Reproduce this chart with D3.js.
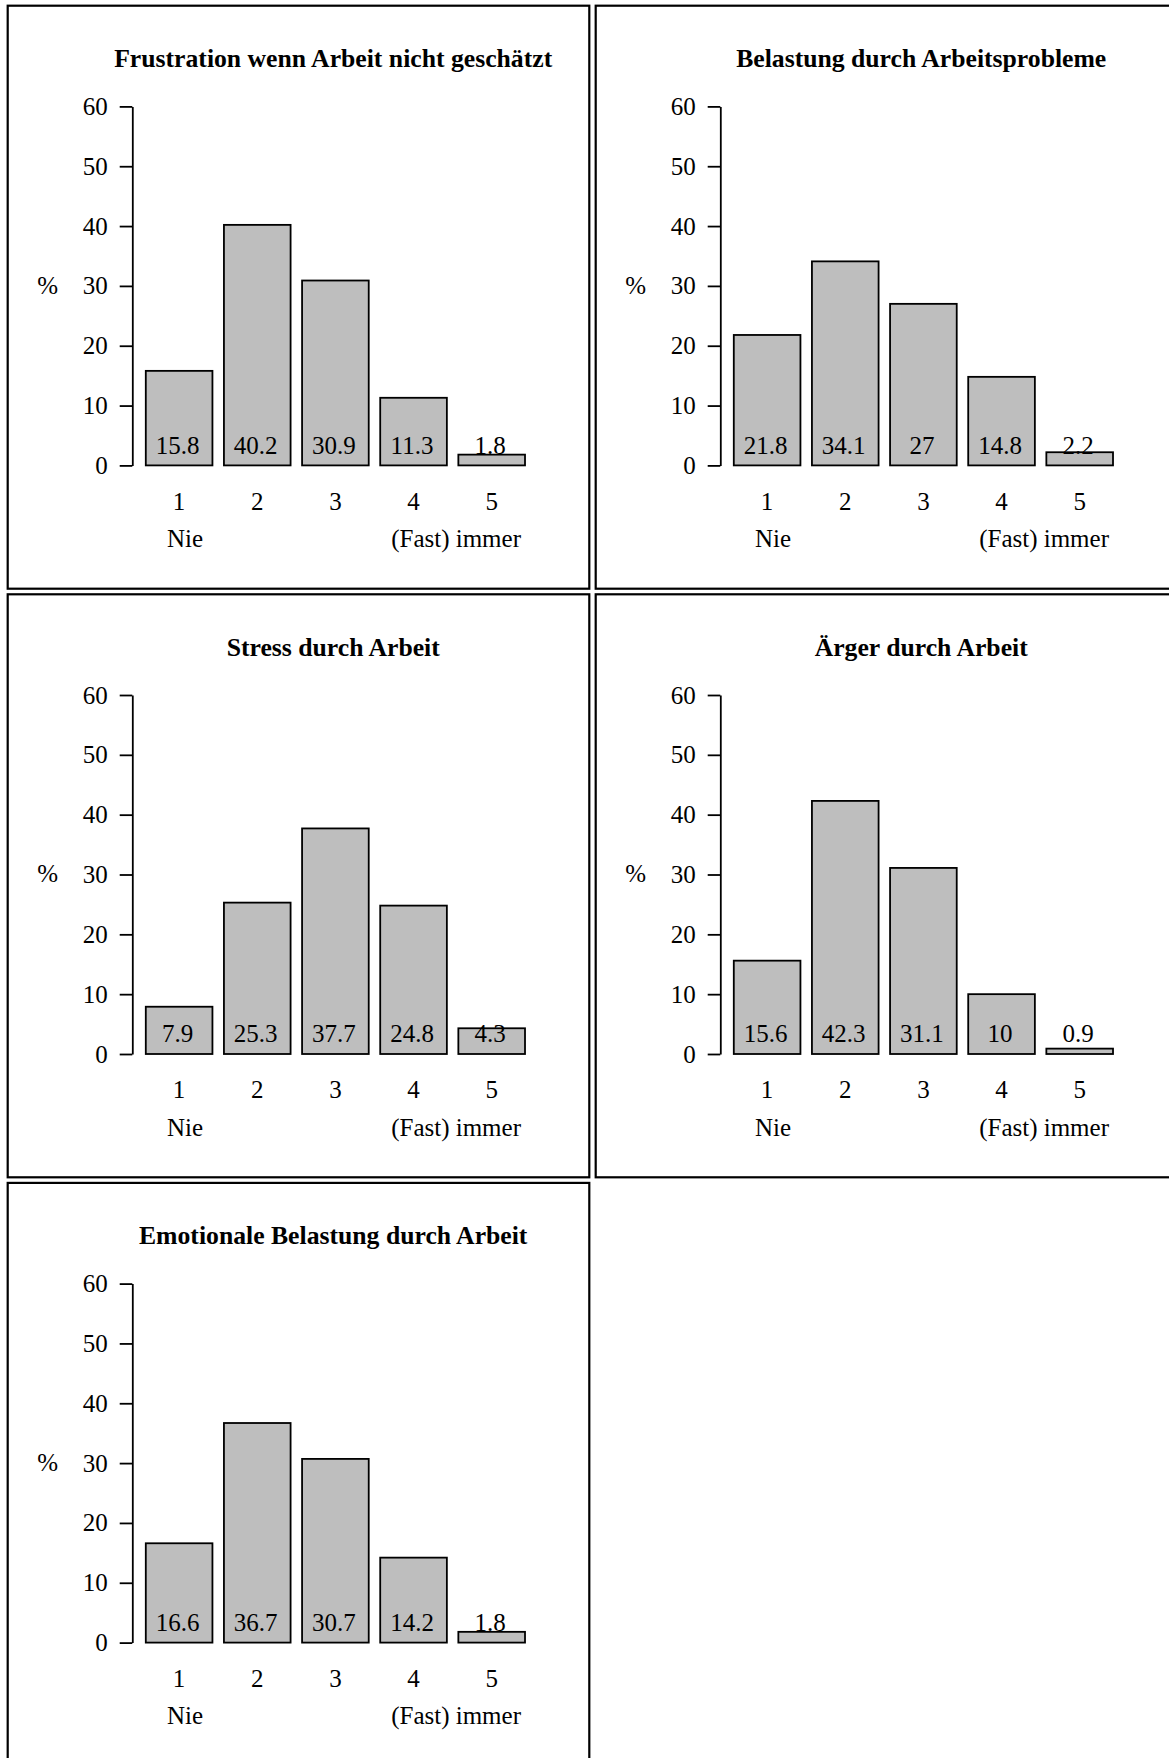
<!DOCTYPE html>
<html>
<head>
<meta charset="utf-8">
<script src="https://cdn.jsdelivr.net/npm/d3@7"></script>
<style>
  html, body { margin: 0; padding: 0; background: #fff; overflow: hidden; }
  svg { display: block; }
  text { font-family: "Liberation Serif", "Times New Roman", serif; fill: #000; }
</style>
</head>
<body>
<svg id="chart" width="1169" height="1758"></svg>
<script>
// ---- data ----
const titles = [
  "Frustration wenn Arbeit nicht geschätzt",
  "Belastung durch Arbeitsprobleme",
  "Stress durch Arbeit",
  "Ärger durch Arbeit",
  "Emotionale Belastung durch Arbeit"
];
const categories = ["1", "2", "3", "4", "5"];
const frustration = [15.8, 40.2, 30.9, 11.3, 1.8];
const belastung   = [21.8, 34.1, 27, 14.8, 2.2];
const stress      = [7.9, 25.3, 37.7, 24.8, 4.3];
const aerger      = [15.6, 42.3, 31.1, 10, 0.9];
const emotional   = [16.6, 36.7, 30.7, 14.2, 1.8];
const seriesValues = [frustration, belastung, stress, aerger, emotional];
const yTicks = [0, 10, 20, 30, 40, 50, 60];
const endLabels = ["Nie", "(Fast) immer"];
const yLabel = "%";

// ---- layout ----
const svg = d3.select("#chart");
const panelW = 581.6, panelH = 583;
const originX = 7.7, originY = 5.7;
const strideX = 588, strideY = 588.6;
const fs = 25;

const x = d3.scaleBand()
  .domain(categories)
  .range([132.35, 523.05])
  .paddingInner(0.147)
  .paddingOuter(0.0735);
const y = d3.scaleLinear().domain([0, 60]).range([459.7, 100.7]);
const axisX = 124.6;

seriesValues.forEach((vals, i) => {
  const col = i % 2, row = Math.floor(i / 2);
  const g = svg.append("g")
    .attr("transform", `translate(${originX + col * strideX},${originY + row * strideY})`);

  // frame
  g.append("rect")
    .attr("x", 0).attr("y", 0)
    .attr("width", panelW).attr("height", panelH)
    .attr("fill", "none").attr("stroke", "#000").attr("stroke-width", 2.2);

  // title
  g.append("text")
    .attr("x", 325.5).attr("y", 61.3)
    .attr("text-anchor", "middle")
    .attr("font-size", 25.7).attr("font-weight", "bold")
    .text(titles[i]);

  // y axis
  const yAxis = d3.axisLeft(y).tickValues(yTicks).tickSize(12.6).tickPadding(12).tickSizeOuter(0);
  const ag = g.append("g").attr("transform", `translate(${axisX},0)`).call(yAxis);
  ag.select(".domain").attr("stroke", "#000").attr("stroke-width", 1.8);
  ag.selectAll(".tick line").attr("stroke", "#000").attr("stroke-width", 1.8);
  ag.selectAll(".tick text")
    .attr("font-family", '"Liberation Serif", "Times New Roman", serif')
    .attr("font-size", fs).attr("fill", "#000");

  // y label
  g.append("text")
    .attr("x", 40).attr("y", (y(0) + y(60)) / 2 + 8)
    .attr("text-anchor", "middle")
    .attr("font-size", fs)
    .text(yLabel);

  // bars
  g.selectAll("rect.bar")
    .data(vals)
    .join("rect")
    .attr("class", "bar")
    .attr("x", (d, j) => x(categories[j]))
    .attr("width", x.bandwidth())
    .attr("y", d => y(d))
    .attr("height", d => y(0) - y(d))
    .attr("fill", "#bebebe")
    .attr("stroke", "#000")
    .attr("stroke-width", 1.8);

  // value labels
  g.selectAll("text.val")
    .data(vals)
    .join("text")
    .attr("class", "val")
    .attr("x", (d, j) => x(categories[j]) + x.bandwidth() / 2 - 1.5)
    .attr("y", y(0) - 11.5)
    .attr("text-anchor", "middle")
    .attr("font-size", fs)
    .text(d => d);

  // category labels
  g.selectAll("text.cat")
    .data(categories)
    .join("text")
    .attr("class", "cat")
    .attr("x", d => x(d) + x.bandwidth() / 2)
    .attr("y", 504)
    .attr("text-anchor", "middle")
    .attr("font-size", fs)
    .text(d => d);

  // end labels
  g.append("text")
    .attr("x", x(categories[0]) + x.bandwidth() / 2 + 6)
    .attr("y", 541.5)
    .attr("text-anchor", "middle")
    .attr("font-size", fs)
    .text(endLabels[0]);
  g.append("text")
    .attr("x", x(categories[4]) + x.bandwidth() - 4)
    .attr("y", 541.5)
    .attr("text-anchor", "end")
    .attr("font-size", fs)
    .text(endLabels[1]);
});
</script>
</body>
</html>
